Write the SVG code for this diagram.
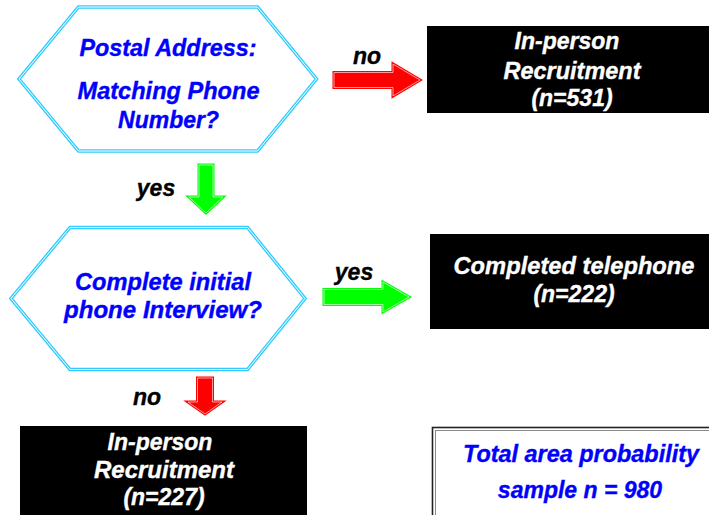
<svg xmlns="http://www.w3.org/2000/svg" width="709" height="515" viewBox="0 0 709 515">
<style>
text{font-family:"Liberation Sans",Arial,sans-serif;font-weight:bold;font-style:italic;font-size:23px;text-anchor:middle;stroke-width:0.35}
.blue{fill:#0000ff;stroke:#0000ff}
.white{fill:#ffffff;stroke:#ffffff}
.lbl{fill:#000000;stroke:#000000}
.hexo{fill:#ffffff;stroke:#33ccff;stroke-width:3.5;stroke-linejoin:miter}
.hexi{fill:none;stroke:#ffffff;stroke-width:1}
.box{fill:#000000}
.red{fill:#ff0000;stroke:#ff0000;stroke-width:3;stroke-linejoin:miter}
.green{fill:#00ff00;stroke:#00ff00;stroke-width:3;stroke-linejoin:miter}
.arri{fill:none;stroke:#ffffff;stroke-opacity:0.75;stroke-width:0.8}
</style>
<rect width="709" height="515" fill="#ffffff"/>
<defs>
<path id="a1" d="M334,72.5 H393 V64 L420,80 L393,96 V87.5 H334 Z"/>
<path id="a2" d="M199,165 H213 V197 H223 L206,213 L189,197 H199 Z"/>
<path id="a3" d="M324,289.5 H383 V282 L409,297 L383,312 V304.5 H324 Z"/>
<path id="a4" d="M197.5,378 H212.5 V402 H222 L205,414 L188,402 H197.5 Z"/>
</defs>
<g id="hex1">
<path class="hexo" d="M78.5,7 H257.5 L316.5,79 L257.5,151 H78.5 L19,79 Z"/>
<path class="hexi" d="M78.5,7 H257.5 L316.5,79 L257.5,151 H78.5 L19,79 Z"/>
<text class="blue" x="168" y="56" textLength="177" lengthAdjust="spacingAndGlyphs">Postal Address:</text>
<text class="blue" x="168.5" y="99" textLength="182" lengthAdjust="spacingAndGlyphs">Matching Phone</text>
<text class="blue" x="168.5" y="128">Number?</text>
</g>
<g id="hex2">
<path class="hexo" d="M70,227.5 H247.5 L305,298.5 L247.5,369.5 H70 L11,298.5 Z"/>
<path class="hexi" d="M70,227.5 H247.5 L305,298.5 L247.5,369.5 H70 L11,298.5 Z"/>
<text class="blue" x="163" y="290" textLength="176" lengthAdjust="spacingAndGlyphs">Complete initial</text>
<text class="blue" x="163" y="318" textLength="198" lengthAdjust="spacingAndGlyphs">phone Interview?</text>
</g>
<g id="box531">
<rect class="box" x="427" y="26" width="282" height="87"/>
<text class="white" x="567" y="49">In-person</text>
<text class="white" x="572" y="79" textLength="137" lengthAdjust="spacingAndGlyphs">Recruitment</text>
<text class="white" x="572" y="106">(n=531)</text>
</g>
<g id="box222">
<rect class="box" x="430" y="234" width="279" height="95"/>
<text class="white" x="574" y="274" textLength="241" lengthAdjust="spacingAndGlyphs">Completed telephone</text>
<text class="white" x="574" y="302">(n=222)</text>
</g>
<g id="box227">
<rect class="box" x="20" y="426" width="287" height="89"/>
<text class="white" x="160" y="450">In-person</text>
<text class="white" x="164" y="478" textLength="140" lengthAdjust="spacingAndGlyphs">Recruitment</text>
<text class="white" x="164" y="505">(n=227)</text>
</g>
<g id="total">
<rect x="432.5" y="427.5" width="300" height="100" fill="#ffffff" stroke="#222222" stroke-width="1.6"/>
<rect x="435.5" y="430.5" width="300" height="100" fill="none" stroke="#888888" stroke-width="1"/>
<text class="blue" x="581" y="462" textLength="236" lengthAdjust="spacingAndGlyphs">Total area probability</text>
<text class="blue" x="580" y="498">sample n = 980</text>
</g>
<g id="connectors">
<use href="#a1" class="red"/>
<use href="#a1" class="arri"/>
<text class="lbl" x="367" y="64">no</text>
<use href="#a2" class="green"/>
<use href="#a2" class="arri"/>
<text class="lbl" x="156" y="196">yes</text>
<use href="#a3" class="green"/>
<use href="#a3" class="arri"/>
<text class="lbl" x="354" y="280">yes</text>
<use href="#a4" class="red"/>
<use href="#a4" class="arri"/>
<text class="lbl" x="147" y="405">no</text>
</g>
</svg>
